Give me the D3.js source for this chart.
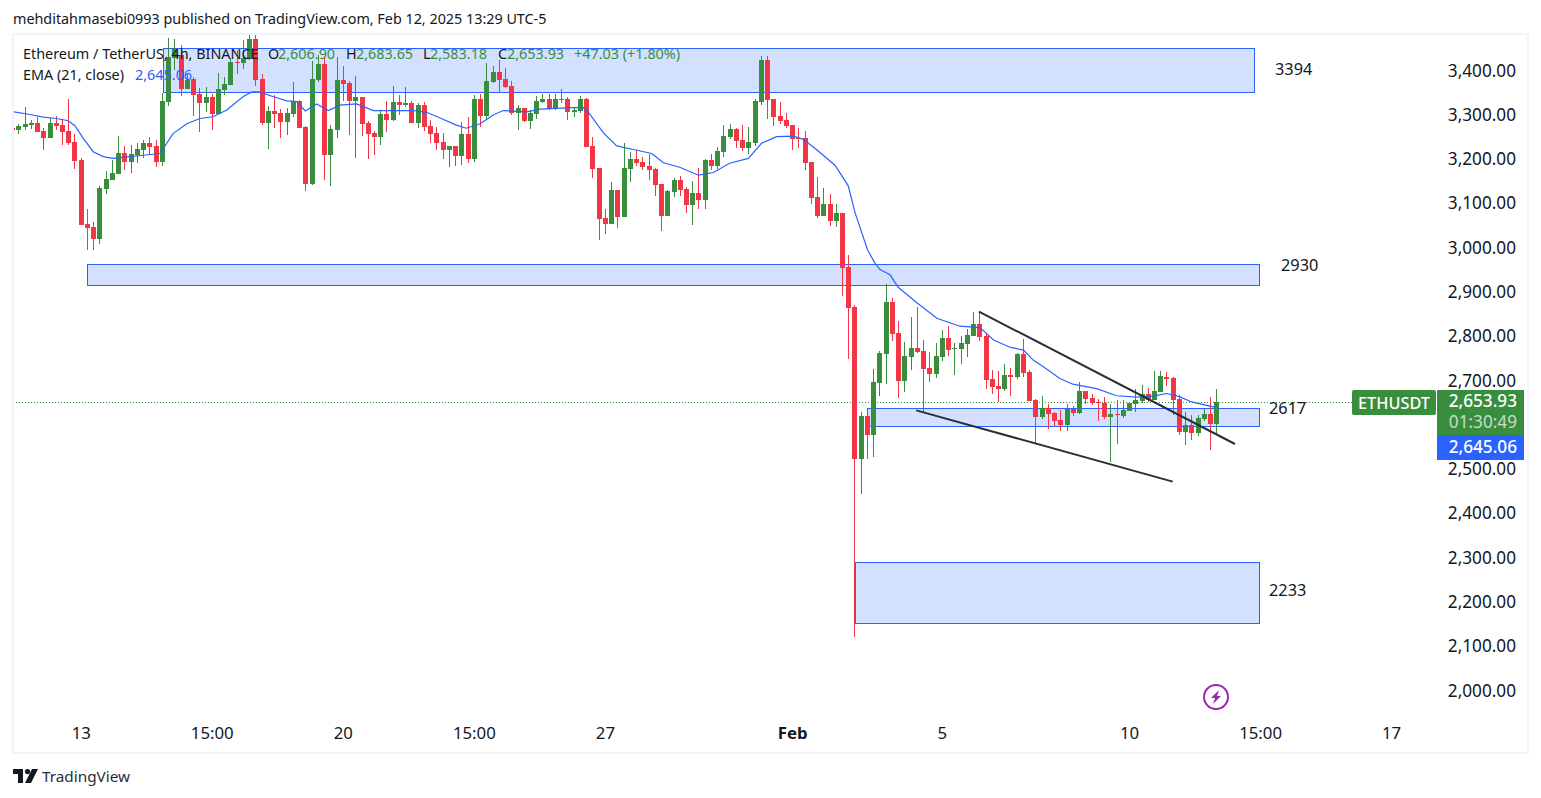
<!DOCTYPE html>
<html>
<head>
<meta charset="utf-8">
<title>ETHUSDT</title>
<script src="https://cdn.jsdelivr.net/npm/d3@7/dist/d3.min.js"></script>
<style>
  html, body { margin: 0; padding: 0; background: #fff; }
  svg { display: block; }
  text { font-family: "Noto Sans", sans-serif; fill: #131722; }
</style>
</head>
<body>
<svg id="chart" width="1541" height="798"></svg>
<script>
// 4h candles
const open = [
3274,3269,3276,3281,3285,3267,3251,3285,3280,3267,
3242,3201,3057,3050,3023,3136,3156,3170,3217,3197,
3212,3224,3240,3233,3197,3332,3432,3438,3362,3384,
3350,3330,3343,3305,3359,3371,3423,3420,3429,3474,
3384,3285,3312,3307,3287,3305,3334,3276,3147,3382,
3418,3213,3269,3382,3375,3334,3344,3285,3262,3253,
3305,3292,3332,3325,3330,3285,3325,3278,3262,3242,
3224,3233,3210,3260,3204,3339,3301,3377,3400,3384,
3368,3307,3319,3289,3305,3332,3339,3316,3339,3339,
3310,3312,3339,3233,3183,3070,3057,3134,3073,3181,
3203,3197,3188,3181,3147,3075,3129,3156,3136,3100,
3127,3111,3201,3188,3219,3253,3271,3246,3228,3240,
3332,3427,3339,3301,3292,3280,3251,3251,3197,3118,
3075,3102,3064,3082,2960,2869,2526,2623,2580,2698,
2763,2881,2811,2702,2756,2777,2770,2732,2718,2756,
2799,2774,2774,2786,2804,2831,2804,2707,2691,2684,
2716,2711,2763,2723,2659,2621,2641,2630,2614,2603,
2639,2630,2680,2664,2655,2653,2621,2628,2623,2635,
2650,2657,2673,2659,2677,2711,2709,2662,2587,2603,
2585,2616,2628,2605];
const high = [
3275,3283,3320,3292,3298,3273,3295,3301,3293,3339,
3260,3206,3091,3061,3142,3176,3201,3255,3233,3235,
3240,3246,3253,3246,3352,3476,3474,3461,3397,3389,
3364,3366,3350,3398,3389,3432,3450,3472,3486,3486,
3395,3323,3348,3316,3319,3377,3337,3278,3425,3438,
3431,3280,3435,3414,3380,3391,3344,3289,3267,3314,
3334,3368,3348,3366,3334,3330,3332,3292,3276,3262,
3233,3233,3287,3298,3348,3350,3420,3414,3427,3409,
3380,3326,3319,3314,3346,3350,3350,3350,3362,3344,
3321,3346,3341,3253,3183,3091,3152,3134,3240,3219,
3224,3208,3215,3183,3147,3134,3161,3165,3140,3154,
3183,3204,3215,3231,3280,3283,3274,3280,3276,3339,
3436,3436,3339,3332,3307,3280,3273,3267,3197,3163,
3138,3125,3102,3082,2987,2874,2632,2623,2729,2770,
2921,2890,2838,2790,2847,2869,2795,2768,2788,2817,
2826,2788,2804,2820,2858,2858,2808,2727,2725,2741,
2732,2765,2797,2727,2662,2668,2650,2632,2637,2650,
2646,2700,2680,2673,2662,2666,2650,2659,2659,2655,
2684,2693,2686,2725,2725,2723,2711,2671,2632,2625,
2625,2639,2666,2684];
const low = [
3270,3260,3269,3272,3264,3224,3249,3269,3235,3235,
3180,3054,2998,2998,3012,3124,3156,3170,3179,3172,
3194,3206,3212,3185,3188,3323,3404,3346,3362,3301,
3264,3310,3269,3305,3348,3371,3395,3407,3427,3368,
3280,3226,3273,3251,3258,3298,3273,3131,3145,3378,
3156,3143,3251,3334,3258,3206,3255,3204,3213,3235,
3264,3289,3303,3321,3285,3274,3267,3240,3224,3204,
3185,3188,3190,3194,3197,3276,3292,3375,3355,3364,
3303,3269,3287,3271,3294,3330,3314,3314,3330,3292,
3298,3307,3231,3160,3021,3034,3057,3048,3073,3152,
3188,3179,3156,3120,3041,3075,3118,3120,3082,3054,
3091,3091,3179,3181,3208,3249,3228,3222,3215,3233,
3326,3294,3278,3283,3274,3224,3228,3179,3102,3070,
3075,3052,3050,2894,2752,2125,2447,2526,2531,2668,
2695,2793,2664,2677,2727,2765,2632,2700,2709,2747,
2759,2716,2741,2756,2804,2793,2684,2673,2655,2680,
2668,2707,2711,2657,2562,2616,2594,2601,2589,2589,
2623,2628,2650,2648,2612,2616,2519,2560,2619,2635,
2632,2653,2655,2659,2677,2691,2626,2580,2558,2569,
2578,2612,2546,2583];
const close = [
3270,3278,3282,3285,3264,3251,3285,3278,3264,3240,
3199,3054,3048,3023,3138,3158,3172,3217,3197,3215,
3226,3240,3231,3197,3334,3433,3453,3362,3383,3348,
3330,3343,3305,3362,3373,3423,3422,3432,3474,3382,
3285,3312,3305,3287,3307,3334,3273,3147,3384,3418,
3213,3271,3382,3373,3334,3344,3283,3260,3253,3305,
3292,3332,3325,3330,3285,3325,3276,3260,3240,3224,
3233,3210,3260,3204,3339,3301,3380,3400,3382,3366,
3307,3319,3289,3307,3334,3339,3316,3339,3337,3310,
3314,3339,3231,3181,3068,3057,3134,3073,3183,3203,
3194,3185,3179,3145,3075,3131,3156,3134,3100,3127,
3111,3201,3188,3222,3255,3271,3244,3228,3242,3334,
3427,3337,3298,3289,3278,3249,3250,3194,3116,3075,
3102,3064,3082,2957,2867,2526,2623,2580,2700,2765,
2881,2808,2702,2759,2777,2768,2729,2718,2759,2799,
2772,2777,2788,2806,2831,2802,2704,2689,2684,2716,
2711,2763,2720,2657,2621,2641,2628,2612,2603,2639,
2630,2680,2662,2653,2654,2621,2628,2626,2637,2653,
2659,2673,2659,2680,2714,2707,2659,2587,2603,2585,
2619,2628,2605,2654];

// EMA line, bar position / price pairs
const emaBar = [0.2,2.9,5,7.1,9,10.1,11.4,13,14.6,16.2,18.9,21,23.7,25.8,28,30.1,32.2,34.4,37,38.4,39.5,41.9,44,45.6,
  47,48.8,50.7,52.5,55.2,57.9,61.1,64.3,66.4,68.6,71.2,72.8,75,77.1,78.7,82.5,84.6,88.9,91.5,
  92.4,94.8,96.9,99.6,102.5,104.4,107,110,112.4,115,118,120.1,122.5,125.2,126.8,129,131.9,134,135.1,
  137.1,138.3,139.1,140.7,142,145,148.2,151.9,155.1,157.3,160,162.1,163.6,165.5,167.9,170,173.8,177,180.2,182.9,185,187.1,189,192.5,193];
const emaPrice = [3310,3304,3298,3295,3290,3278,3250,3220,3209,3205,3209,3212,3216,3261,3283,3295,3299,3314,3344,3355,3355,3344,3335,3333,
  3312,3328,3313,3325,3328,3313,3313,3313,3309,3296,3280,3273,3283,3303,3313,3310,3316,3319,3320,
  3308,3262,3233,3225,3216,3195,3185,3167,3173,3194,3205,3239,3254,3255,3248,3224,3189,3143,3082,
  2998,2968,2954,2942,2914,2879,2844,2826,2823,2795,2778,2772,2750,2732,2708,2695,2685,2669,2666,2668,2674,2667,2655,2644,2645];

// drawn zones: left bar, right bar, top price, bottom price, label
const zoneStart = [24.2, 12, 137.05, 135.1];
const zoneEnd = [199, 199.9, 199.9, 199.9];
const zoneTop = [3454, 2966, 2641, 2294];
const zoneBottom = [3355, 2919, 2600, 2156];
const zoneLabels = ["3394", "2930", "2617", "2233"];

// wedge trend lines
const trendStart = [[154.95, 2859], [144.9, 2636]];
const trendEnd = [[195.98, 2560], [186, 2475]];

const priceTicks = [3400,3300,3200,3100,3000,2900,2800,2700,2500,2400,2300,2200,2100,2000];
const timeBars = [11,32,53,74,95,125,149,179,200,221];
const timeLabels = ["13","15:00","20","15:00","27","Feb","5","10","15:00","17"];

const lastClose = 2653.93;

const green = "#388e3c", red = "#f23645", blue = "#2962ff", ink = "#131722";

const svg = d3.select("#chart");

const x = d3.scaleLinear().domain([0, 193]).range([12.1, 1216.4]);
const y = d3.scaleLinear().domain([3400, 2000]).range([72, 692]);

// page header
svg.append("text").attr("x", 13).attr("y", 24).attr("font-size", 14.35).text("mehditahmasebi0993 published on TradingView.com, Feb 12, 2025 13:29 UTC-5");

// frame
svg.append("rect").attr("x", 13).attr("y", 34).attr("width", 1515).attr("height", 719)
  .attr("fill", "#fff").attr("stroke", "#f0f3fa").attr("stroke-width", 2);

svg.append("defs").append("clipPath").attr("id", "plot").append("rect")
  .attr("x", 14).attr("y", 35).attr("width", 1340).attr("height", 680);

const plot = svg.append("g").attr("clip-path", "url(#plot)");

// zones
const zones = d3.range(zoneStart.length);
plot.selectAll("rect.zone").data(zones).join("rect").attr("class", "zone")
  .attr("x", i => Math.round(x(zoneStart[i])) + 0.5)
  .attr("y", i => Math.round(y(zoneTop[i])) + 0.5)
  .attr("width", i => Math.round(x(zoneEnd[i]) - x(zoneStart[i])))
  .attr("height", i => Math.round(y(zoneBottom[i]) - y(zoneTop[i])))
  .attr("fill", blue).attr("fill-opacity", 0.2)
  .attr("stroke", blue).attr("stroke-width", 1);

// last price line
plot.append("line").attr("x1", 13).attr("x2", 1352)
  .attr("y1", Math.round(y(lastClose)) + 0.5).attr("y2", Math.round(y(lastClose)) + 0.5)
  .attr("stroke", green).attr("stroke-width", 1).attr("stroke-dasharray", "1 2");

// candles
const bars = d3.range(open.length);
const barColor = i => close[i] >= open[i] ? green : red;
plot.selectAll("rect.wick").data(bars).join("rect").attr("class", "wick")
  .attr("x", i => Math.round(x(i)))
  .attr("width", 1)
  .attr("y", i => Math.round(y(high[i])))
  .attr("height", i => Math.max(1, Math.round(y(low[i]) - y(high[i]))))
  .attr("fill", barColor);
plot.selectAll("rect.body").data(bars).join("rect").attr("class", "body")
  .attr("x", i => Math.round(x(i)) - 2)
  .attr("width", 5)
  .attr("y", i => Math.round(y(Math.max(open[i], close[i]))))
  .attr("height", i => Math.max(1, Math.round(Math.abs(y(open[i]) - y(close[i])))))
  .attr("fill", barColor);

// EMA
plot.append("path")
  .attr("d", d3.line().x(d => x(d)).y((d, i) => y(emaPrice[i]))(emaBar))
  .attr("fill", "none").attr("stroke", blue).attr("stroke-width", 1.2);

// trend lines
plot.selectAll("line.trend").data(trendStart).join("line").attr("class", "trend")
  .attr("x1", d => x(d[0])).attr("y1", d => y(d[1]))
  .attr("x2", (d, i) => x(trendEnd[i][0])).attr("y2", (d, i) => y(trendEnd[i][1]))
  .attr("stroke", "#2a2e39").attr("stroke-width", 2);

// zone labels
const zoneLabelX = [1275, 1281, 1269, 1269];
const zoneLabelY = [75, 271, 414, 596];
svg.selectAll("text.zl").data(zoneLabels).join("text").attr("class", "zl")
  .attr("x", (d, i) => zoneLabelX[i]).attr("y", (d, i) => zoneLabelY[i])
  .attr("font-size", 16.3).text(d => d);

// axes
const yAxis = d3.axisLeft(y).tickValues(priceTicks).tickSize(0).tickFormat(d3.format(",.2f"));
const yG = svg.append("g").attr("transform", "translate(1519,-1.5)").call(yAxis);
yG.select(".domain").remove();
yG.selectAll("text").attr("font-size", 17.2).attr("font-family", '"Noto Sans", sans-serif').style("fill", ink);

const xAxis = d3.axisBottom(x).tickValues(timeBars).tickSize(0)
  .tickFormat(d => timeLabels[timeBars.indexOf(d)]);
const xG = svg.append("g").attr("transform", "translate(0,724)").call(xAxis);
xG.select(".domain").remove();
xG.selectAll("text").attr("font-size", 16.8).attr("font-family", '"Noto Sans", sans-serif').style("fill", ink)
  .attr("font-weight", d => timeLabels[timeBars.indexOf(d)] === "Feb" ? 700 : 400);

// legend
const legendSize = 14.4;
function legend(px, py, s, color) {
  svg.append("text").attr("x", px).attr("y", py).attr("font-size", legendSize).style("fill", color).text(s);
}
legend(23, 59, "Ethereum / TetherUS, 4h, BINANCE", ink);
legend(268, 59, "O", ink);
legend(278, 59, "2,606.90", green);
legend(346, 59, "H", ink);
legend(356, 59, "2,683.65", green);
legend(423, 59, "L", ink);
legend(430, 59, "2,583.18", green);
legend(498, 59, "C", ink);
legend(507, 59, "2,653.93", green);
legend(574, 59, "+47.03 (+1.80%)", green);
legend(23, 80, "EMA (21, close)", ink);
legend(135, 80, "2,645.06", blue);

// price tags
svg.append("rect").attr("x", 1352).attr("y", 390).attr("width", 84).attr("height", 25).attr("rx", 2).attr("fill", green);
svg.append("rect").attr("x", 1437).attr("y", 390).attr("width", 87).attr("height", 45).attr("fill", green);
svg.append("rect").attr("x", 1437).attr("y", 435).attr("width", 87).attr("height", 25).attr("fill", blue);
svg.append("text").attr("x", 1394).attr("y", 409).attr("text-anchor", "middle").attr("font-size", 16.3).attr("font-weight", 500).style("fill", "#fff").text("ETHUSDT");
svg.append("text").attr("x", 1517).attr("y", 407).attr("text-anchor", "end").attr("font-size", 17.2).attr("font-weight", 500).style("fill", "#fff").text("2,653.93");
svg.append("text").attr("x", 1517).attr("y", 428).attr("text-anchor", "end").attr("font-size", 17.2).style("fill", "#fff").style("opacity", 0.7).text("01:30:49");
svg.append("text").attr("x", 1517).attr("y", 453).attr("text-anchor", "end").attr("font-size", 17.2).attr("font-weight", 500).style("fill", "#fff").text("2,645.06");

// lightning icon
const icon = svg.append("g").attr("transform", "translate(1216,697)");
icon.append("circle").attr("r", 12).attr("fill", "#fff").attr("stroke", "#9c27b0").attr("stroke-width", 2);
icon.append("path").attr("d", "M3,-7 L-5,1 L-1,1 L-3,7 L5,-1 L1,-1 Z").attr("fill", "#9c27b0");

// logo
const logo = svg.append("g").attr("transform", "translate(13,769)").attr("fill", "#131722");
logo.append("path").attr("d", "M0,0 H10 V14 H5 V5 H0 Z");
logo.append("circle").attr("cx", 14.5).attr("cy", 2.6).attr("r", 2.6);
logo.append("path").attr("d", "M19,0 H25 L18,14 H12 Z");
svg.append("text").attr("x", 42).attr("y", 782).attr("font-size", 15.3).style("fill", "#2a2e39").text("TradingView");
</script>
</body>
</html>
